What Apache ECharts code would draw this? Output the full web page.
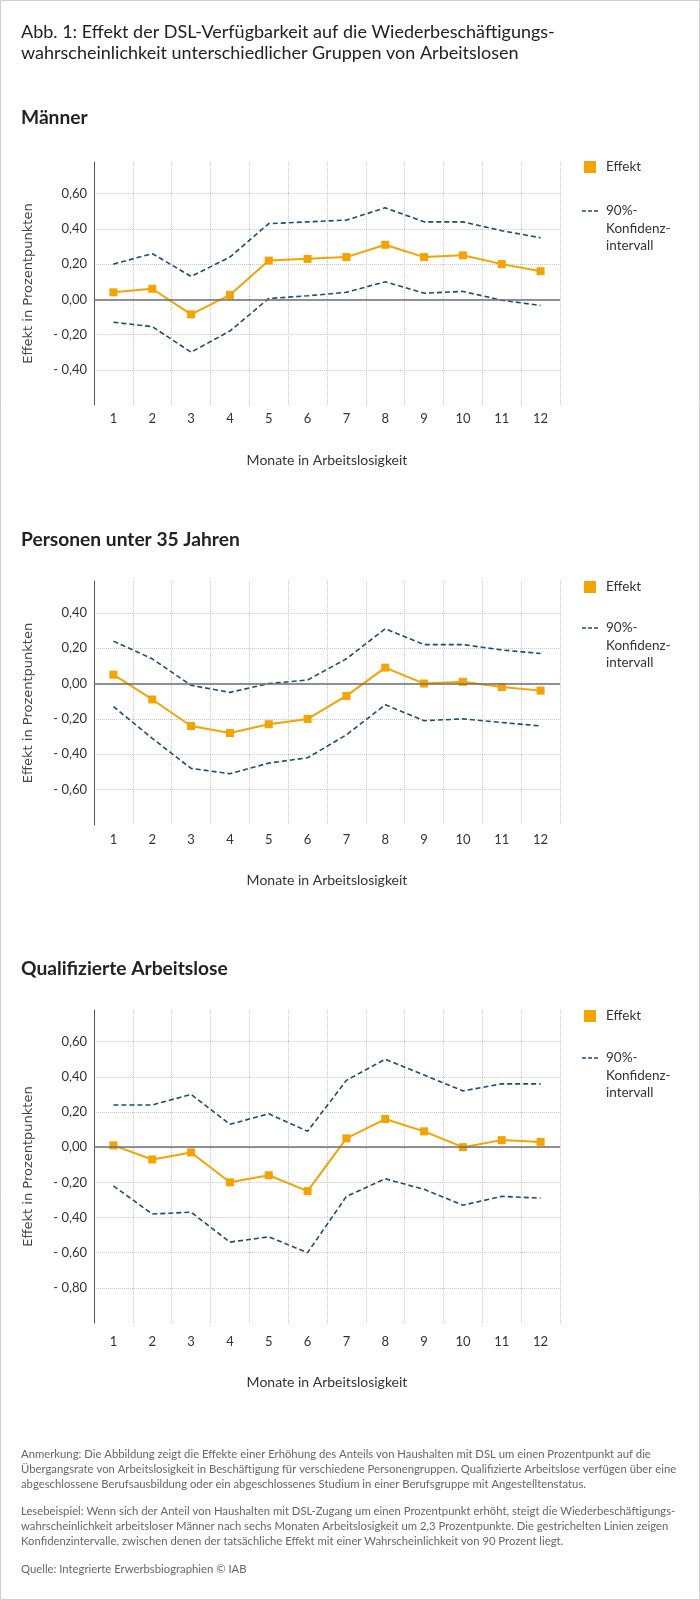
<!DOCTYPE html>
<html>
<head>
<meta charset="utf-8">
<script src="https://cdn.jsdelivr.net/npm/echarts@6/dist/echarts.min.js"></script>
<style>
html,body{margin:0;padding:0;background:#fff;}
#chart{width:700px;height:1600px;}
</style>
</head>
<body>
<div id="chart"></div>
<script>
// ---- data ----
const months = ['1','2','3','4','5','6','7','8','9','10','11','12'];

const maennerEffekt = [0.04, 0.06, -0.085, 0.025, 0.22, 0.23, 0.24, 0.31, 0.24, 0.25, 0.20, 0.16];
const maennerOben   = [0.20, 0.26, 0.13, 0.24, 0.43, 0.44, 0.45, 0.52, 0.44, 0.44, 0.39, 0.35];
const maennerUnten  = [-0.13, -0.155, -0.30, -0.18, 0.005, 0.02, 0.04, 0.10, 0.035, 0.045, -0.005, -0.035];

const jungEffekt = [0.05, -0.09, -0.24, -0.28, -0.23, -0.20, -0.07, 0.09, 0.00, 0.01, -0.02, -0.04];
const jungOben   = [0.24, 0.14, -0.01, -0.05, 0.00, 0.02, 0.14, 0.31, 0.22, 0.22, 0.19, 0.17];
const jungUnten  = [-0.13, -0.31, -0.48, -0.51, -0.45, -0.42, -0.29, -0.12, -0.21, -0.20, -0.22, -0.24];

const qualEffekt = [0.01, -0.07, -0.03, -0.20, -0.16, -0.25, 0.05, 0.16, 0.09, 0.00, 0.04, 0.03];
const qualOben   = [0.24, 0.24, 0.30, 0.13, 0.19, 0.09, 0.38, 0.50, 0.41, 0.32, 0.36, 0.36];
const qualUnten  = [-0.22, -0.38, -0.37, -0.54, -0.51, -0.60, -0.28, -0.18, -0.24, -0.33, -0.28, -0.29];

const panelTitles = ['Männer', 'Personen unter 35 Jahren', 'Qualifizierte Arbeitslose'];
const legendEffekt = 'Effekt';
const legendKI = ['90%-', 'Konfidenz-', 'intervall'];
const xName = 'Monate in Arbeitslosigkeit';
const yName = 'Effekt in Prozentpunkten';
const titleLines = ['Abb. 1: Effekt der DSL-Verfügbarkeit auf die Wiederbeschäftigungs-',
                    'wahrscheinlichkeit unterschiedlicher Gruppen von Arbeitslosen'];
const noteLines = [
 'Anmerkung: Die Abbildung zeigt die Effekte einer Erhöhung des Anteils von Haushalten mit DSL um einen Prozentpunkt auf die',
 'Übergangsrate von Arbeitslosigkeit in Beschäftigung für verschiedene Personengruppen. Qualifizierte Arbeitslose verfügen über eine',
 'abgeschlossene Berufsausbildung oder ein abgeschlossenes Studium in einer Berufsgruppe mit Angestelltenstatus.'
];
const readLines = [
 'Lesebeispiel: Wenn sich der Anteil von Haushalten mit DSL-Zugang um einen Prozentpunkt erhöht, steigt die Wiederbeschäftigungs-',
 'wahrscheinlichkeit arbeitsloser Männer nach sechs Monaten Arbeitslosigkeit um 2,3 Prozentpunkte. Die gestrichelten Linien zeigen',
 'Konfidenzintervalle, zwischen denen der tatsächliche Effekt mit einer Wahrscheinlichkeit von 90 Prozent liegt.'
];
const sourceLine = 'Quelle: Integrierte Erwerbsbiographien © IAB';

// ---- layout/style ----
const FONT = 'Lato, "Noto Sans", sans-serif';
const ORANGE = '#F5A300';
const BLUE = '#1C4C78';
const GRIDC = '#c9c9c9';

const panels = [
  {eff: maennerEffekt, up: maennerOben, lo: maennerUnten, min:-0.6, max:0.78, top:162, height:243, titleY:118, lblM:7, nameG:48, legY:167, kiY:211},
  {eff: jungEffekt,    up: jungOben,    lo: jungUnten,    min:-0.8, max:0.58, top:581, height:244, titleY:540, lblM:8, nameG:48, legY:587, kiY:628},
  {eff: qualEffekt,    up: qualOben,    lo: qualUnten,    min:-1.0, max:0.78, top:1010, height:313, titleY:969, lblM:12, nameG:52, legY:1016, kiY:1058}
];

function fmt(v){
  const r = Math.round(v*100)/100;
  if (Math.abs(r) < 1e-9) return '0,00';
  return (r < 0 ? '- ' : '') + Math.abs(r).toFixed(2).replace('.', ',');
}

const grids = [], xAxes = [], yAxes = [], series = [], graphics = [];

panels.forEach((p, i) => {
  grids.push({left:94, width:466, top:p.top, height:p.height});
  xAxes.push({
    type:'category', gridIndex:i, data:months, boundaryGap:true,
    axisLine:{show:false}, axisTick:{show:false},
    axisLabel:{color:'#333', fontSize:13, fontFamily:FONT, margin:p.lblM, interval:0},
    splitLine:{show:true, interval:0, lineStyle:{type:'dotted', color:GRIDC, width:1}},
    name:xName, nameLocation:'middle', nameGap:p.nameG,
    nameTextStyle:{color:'#333', fontSize:14, fontFamily:FONT}
  });
  yAxes.push({
    type:'value', gridIndex:i, min:p.min, max:p.max, interval:0.2,
    axisLine:{show:true, lineStyle:{color:'#555', width:1}},
    axisTick:{show:false},
    axisLabel:{showMinLabel:false, showMaxLabel:false, formatter:fmt, color:'#333', fontSize:13, fontFamily:FONT, margin:7},
    splitLine:{show:true, showMinLine:false, showMaxLine:false, lineStyle:{type:'dotted', color:GRIDC, width:1}},
    name:yName, nameLocation:'middle', nameGap:59, nameRotate:90,
    nameTextStyle:{color:'#444', fontSize:13, fontFamily:'"DejaVu Sans", sans-serif'}
  });
  series.push({
    type:'line', xAxisIndex:i, yAxisIndex:i, data:p.up, symbol:'none', z:2,
    lineStyle:{color:BLUE, width:1.6, type:[5,3]}
  });
  series.push({
    type:'line', xAxisIndex:i, yAxisIndex:i, data:p.lo, symbol:'none', z:2,
    lineStyle:{color:BLUE, width:1.6, type:[5,3]},
    markLine:{silent:true, symbol:'none', label:{show:false}, animation:false,
      lineStyle:{color:'#6f6f6f', width:1.5, type:'solid'}, data:[{yAxis:0}]}
  });
  series.push({
    type:'line', xAxisIndex:i, yAxisIndex:i, data:p.eff, symbol:'rect', symbolSize:8, z:3,
    lineStyle:{color:ORANGE, width:2}, itemStyle:{color:ORANGE}
  });

  // panel title
  graphics.push({type:'text', x:21, y:p.titleY, style:{text:panelTitles[i], fill:'#222', font:'bold 19.2px ' + FONT, textVerticalAlign:'middle'}});
  // legend
  graphics.push({type:'rect', shape:{x:584, y:p.legY-6, width:12, height:12}, style:{fill:ORANGE}});
  graphics.push({type:'text', x:606, y:p.legY, style:{text:legendEffekt, fill:'#333', font:'13.5px ' + FONT, textVerticalAlign:'middle'}});
  graphics.push({type:'line', shape:{x1:582, y1:p.kiY, x2:598, y2:p.kiY}, style:{stroke:BLUE, lineWidth:1.6, lineDash:[4,2]}});
  legendKI.forEach((t, k) => {
    graphics.push({type:'text', x:606, y:p.kiY + k*17.5, style:{text:t, fill:'#333', font:'13.5px ' + FONT, textVerticalAlign:'middle'}});
  });
});

// main title
titleLines.forEach((t, k) => {
  graphics.push({type:'text', x:21, y:32 + k*21, style:{text:t, fill:'#222', font:'18px ' + FONT, textVerticalAlign:'middle'}});
});
// notes
noteLines.forEach((t, k) => {
  graphics.push({type:'text', x:21, y:1454 + k*15.2, style:{text:t, fill:'#666', font:'11.3px ' + FONT, textVerticalAlign:'middle'}});
});
readLines.forEach((t, k) => {
  graphics.push({type:'text', x:21, y:1511 + k*15.2, style:{text:t, fill:'#666', font:'11.3px ' + FONT, textVerticalAlign:'middle'}});
});
graphics.push({type:'text', x:21, y:1569, style:{text:sourceLine, fill:'#666', font:'11.3px ' + FONT, textVerticalAlign:'middle'}});
// frame
graphics.push({type:'rect', shape:{x:0.5, y:0.5, width:699, height:1599}, style:{fill:'none', stroke:'#cfcfcf', lineWidth:1}, z:-1});

const chart = echarts.init(document.getElementById('chart'), null, {renderer:'canvas'});
chart.setOption({
  animation:false,
  backgroundColor:'#fff',
  grid:grids, xAxis:xAxes, yAxis:yAxes, series:series, graphic:graphics
});
</script>
</body>
</html>
